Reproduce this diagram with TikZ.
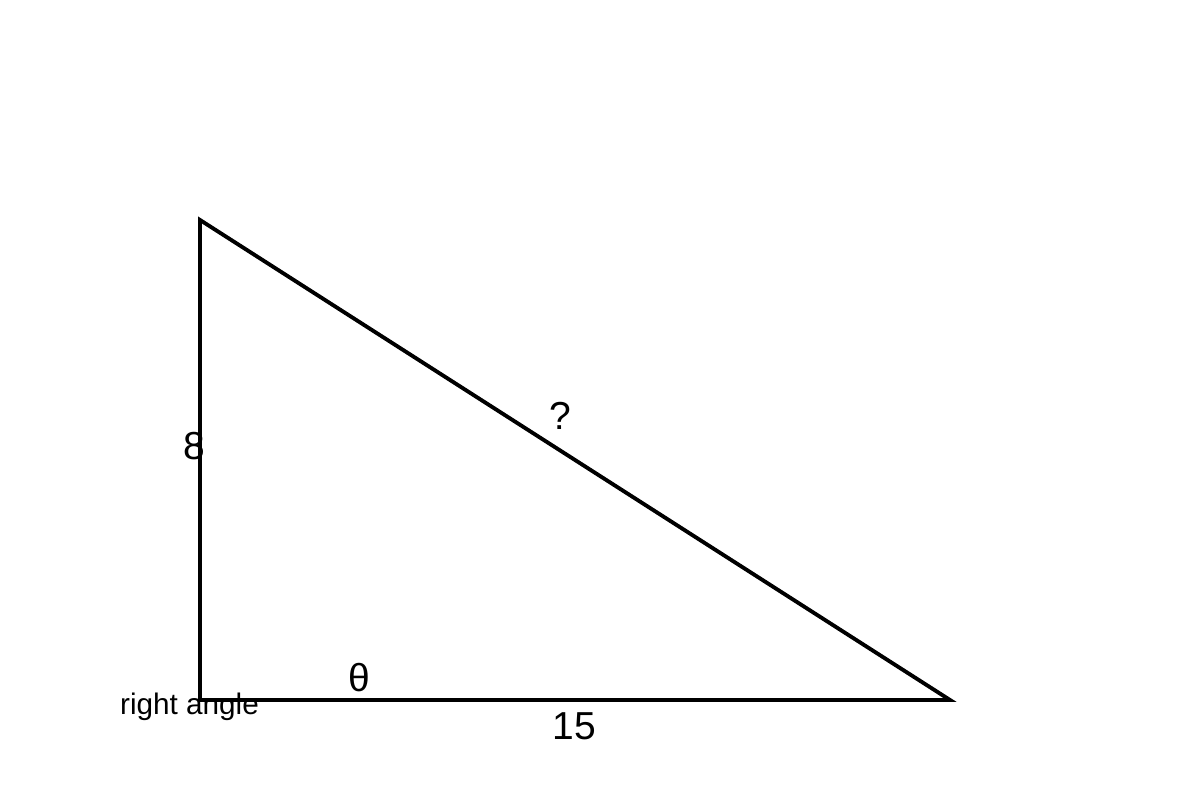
\documentclass[tikz,border=0pt]{standalone}
\usepackage{fontspec}
\setmainfont{Liberation Sans}

\begin{document}
\begin{tikzpicture}[line width = 1.1pt,
  side/.style={inner sep=0pt, font=\fontsize{11.1}{13}\selectfont},
  note/.style={inner sep=0pt, font=\fontsize{8.45}{10}\selectfont}]

\useasboundingbox (0,0) rectangle (12,8);

\draw[line join=miter] (2,5.8)--(2,1)--(9.5,1)--cycle;

\node [side] (opp) at (1.945,3.535) {8};
\node [side] (hyp) at (5.6,3.84) {?};
\node [side] (ang) at (3.59,1.225) {θ};
\node [side] (adj) at (5.745,0.74) {15};
\node [note, anchor=base] (rt) at (1.895,0.855) {right angle};

\end{tikzpicture}
\end{document}
